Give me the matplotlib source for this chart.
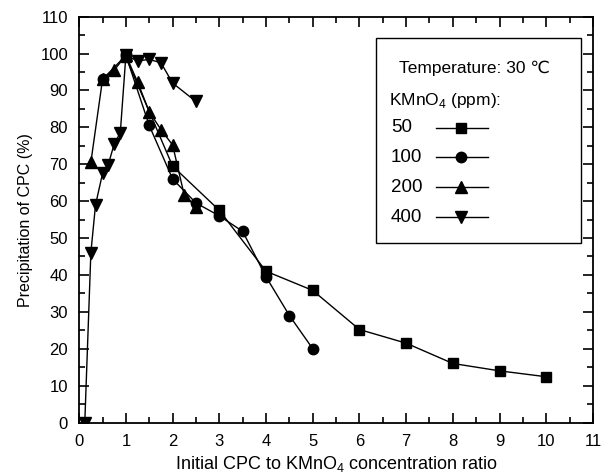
import matplotlib
matplotlib.use("Agg")
import matplotlib.pyplot as plt
from matplotlib.lines import Line2D
from matplotlib.patches import Rectangle
from matplotlib.ticker import MultipleLocator

plt.rcParams['font.family'] = ['Liberation Sans', 'DejaVu Sans']
plt.rcParams['mathtext.fontset'] = 'custom'
plt.rcParams['mathtext.rm'] = 'Liberation Sans'

# KMnO4 50 ppm
x_50 = [1, 2, 3, 4, 5, 6, 7, 8, 9, 10]
y_50 = [99, 69.5, 57.5, 41, 35.8, 25.2, 21.5, 16, 14, 12.4]
# KMnO4 100 ppm
x_100 = [0.5, 1, 1.5, 2, 2.5, 3, 3.5, 4, 4.5, 5]
y_100 = [93, 99.5, 80.5, 66, 59.5, 56, 51.8, 39.5, 29, 20]
# KMnO4 200 ppm
x_200 = [0.25, 0.5, 0.75, 1, 1.25, 1.5, 1.75, 2, 2.25, 2.5]
y_200 = [70.5, 93, 95.5, 99.5, 92.3, 84.2, 79.4, 75.2, 61.6, 58.5]
# KMnO4 400 ppm
x_400 = [0.12, 0.25, 0.35, 0.5, 0.62, 0.75, 0.88, 1, 1.25, 1.5, 1.75, 2, 2.5]
y_400 = [0, 46, 59, 67.5, 69.8, 75.5, 78.5, 99.5, 98, 98.4, 97.5, 92, 87]

labels = ['50', '100', '200', '400']
markers = ['s', 'o', '^', 'v']
msizes = [7, 7.5, 8, 8]
xs_all = [x_50, x_100, x_200, x_400]
ys_all = [y_50, y_100, y_200, y_400]

fig = plt.figure(figsize=(6.11, 4.75), dpi=100)
ax = fig.add_axes([0.1296, 0.1105, 0.8409, 0.8545])

for xs, ys, mk, ms in zip(xs_all, ys_all, markers, msizes):
    ax.plot(xs, ys, color='black', lw=1.0, marker=mk, markersize=ms,
            markerfacecolor='black', markeredgecolor='black')

ax.set_xlim(0, 11)
ax.set_ylim(0, 110)
ax.xaxis.set_major_locator(MultipleLocator(1))
ax.xaxis.set_minor_locator(MultipleLocator(0.5))
ax.yaxis.set_major_locator(MultipleLocator(10))
ax.yaxis.set_minor_locator(MultipleLocator(5))
ax.tick_params(which='both', direction='in', top=True, right=True,
               labelsize=12, width=1.2)
ax.tick_params(which='major', length=7, pad=8)
ax.tick_params(which='minor', length=4)
for sp in ax.spines.values():
    sp.set_linewidth(1.3)

ax.set_xlabel('Initial CPC to KMnO$_4$ concentration ratio', fontsize=13, labelpad=4)
ax.set_ylabel('Precipitation of CPC (%)', fontsize=11.5, labelpad=5)

# legend box drawn by hand so the labels sit left of the sample lines
tr = ax.transAxes
ax.add_patch(Rectangle((0.577, 0.4415), 0.400, 0.505, transform=tr,
                       facecolor='white', edgecolor='black', lw=1.0, zorder=5))
ax.text(0.622, 0.873, 'Temperature: 30 \u2103', transform=tr, fontsize=12.5,
        va='center', ha='left', zorder=6)
ax.text(0.603, 0.794, 'KMnO$_4$ (ppm):', transform=tr, fontsize=12.5,
        va='center', ha='left', zorder=6)
row_y = [0.726, 0.654, 0.580, 0.506]
for lab, mk, ms, ry in zip(labels, markers, msizes, row_y):
    ax.text(0.607, ry, lab, transform=tr, fontsize=13.5, va='center',
            ha='left', zorder=6)
    ax.add_line(Line2D([0.694, 0.744, 0.795], [ry, ry, ry], transform=tr,
                       color='black', lw=1.0, marker=mk, markersize=ms,
                       markevery=[1], markerfacecolor='black', zorder=6))

fig.savefig('out.png', dpi=100)
